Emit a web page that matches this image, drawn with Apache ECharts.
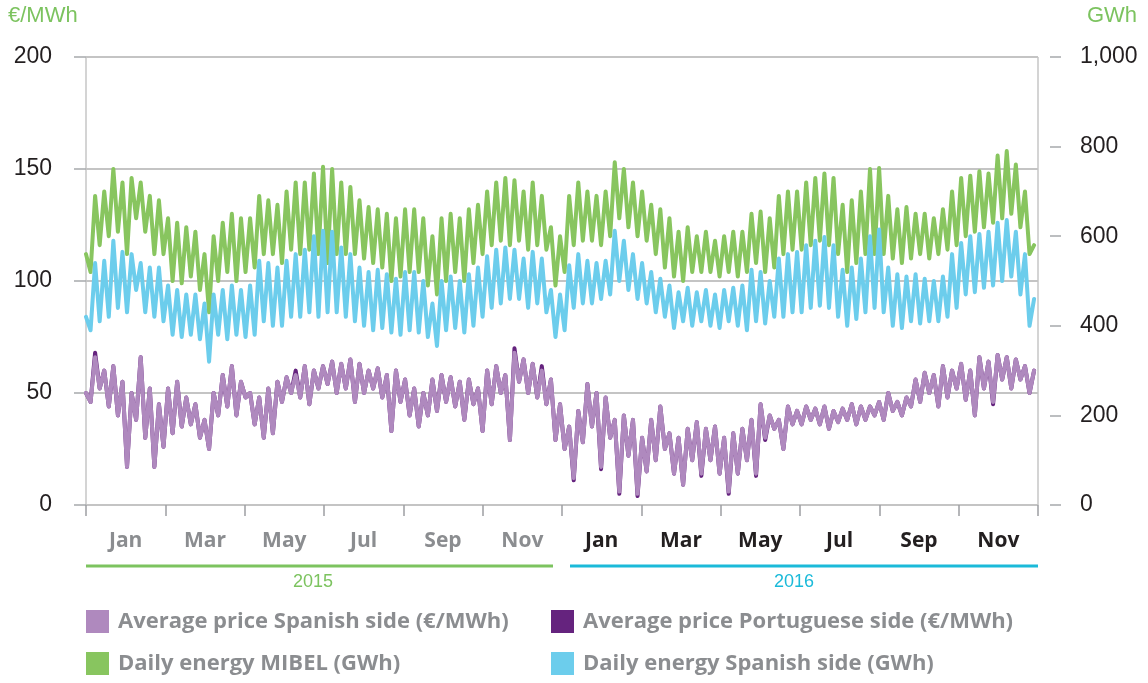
<!DOCTYPE html>
<html>
<head>
<meta charset="utf-8">
<script src="https://cdn.jsdelivr.net/npm/echarts@6/dist/echarts.min.js"></script>
<style>
  html, body { margin: 0; padding: 0; background: #fff; }
  #main { width: 1148px; height: 683px; }
</style>
</head>
<body>
<div id="main"></div>
<script>
// two readings a week (working-day level, then weekend level), 1 Jan 2015 onwards
const STEP_DAYS = 3.5;
const TOTAL_DAYS = 731;

const monthLabels = ['Jan', 'Mar', 'May', 'Jul', 'Sep', 'Nov', 'Jan', 'Mar', 'May', 'Jul', 'Sep', 'Nov'];
const years = ['2015', '2016'];
const priceTicks = [0, 50, 100, 150, 200];
const energyTicks = [0, 200, 400, 600, 800, 1000];

const names = {
  priceSpain: 'Average price Spanish side (€/MWh)',
  pricePortugal: 'Average price Portuguese side (€/MWh)',
  energyMibel: 'Daily energy MIBEL (GWh)',
  energySpain: 'Daily energy Spanish side (GWh)'
};

// €/MWh
const priceSpain = [
  50,46, 66,52, 60,44, 62,40, 55,17,
  50,38, 66,30, 52,17, 45,26, 52,32,
  55,35, 48,36, 45,30, 38,25, 50,40,
  58,44, 62,40, 55,48, 50,36, 48,30,
  52,32, 55,46, 57,50, 58,48, 62,45,
  60,52, 62,54, 64,50, 63,52, 65,46,
  63,50, 60,52, 61,48, 58,33, 60,46,
  56,40, 52,35, 50,40, 56,42, 58,46,
  57,44, 55,38, 56,45, 52,33, 60,45,
  62,50, 58,29, 68,55, 65,50, 63,48,
  60,45, 56,29, 45,25, 35,12, 42,28,
  54,35, 50,17, 48,30, 38,6, 40,22,
  38,5, 30,15, 38,20, 44,25, 32,14,
  30,9, 34,20, 37,14, 34,20, 35,14,
  30,6, 32,14, 34,20, 38,14, 45,30,
  40,34, 38,25, 44,36, 42,36, 44,38,
  43,36, 44,34, 42,37, 43,38, 45,36,
  44,38, 44,40, 46,38, 50,42, 46,40,
  48,44, 56,46, 59,50, 58,44, 62,48,
  60,52, 63,47, 60,40, 66,52, 64,46,
  67,56, 66,52, 65,56, 62,50, 60
];

const pricePortugal = [
  50,46, 68,52, 60,44, 62,40, 55,17,
  50,38, 66,30, 52,17, 45,26, 52,32,
  55,35, 48,36, 45,30, 38,25, 50,40,
  58,44, 62,40, 55,48, 50,36, 48,30,
  52,32, 55,46, 57,50, 60,48, 62,45,
  60,52, 62,54, 64,50, 63,52, 65,46,
  63,50, 60,52, 61,48, 58,33, 60,46,
  56,40, 52,35, 50,40, 56,42, 58,46,
  57,44, 55,38, 56,45, 52,33, 60,45,
  62,50, 58,29, 70,55, 65,50, 63,48,
  62,45, 56,29, 45,25, 35,11, 42,28,
  54,35, 50,16, 48,30, 38,5, 40,22,
  38,4, 30,15, 38,20, 44,25, 32,14,
  30,9, 34,20, 37,13, 34,20, 35,14,
  30,5, 32,14, 34,20, 38,13, 45,29,
  40,34, 38,25, 44,36, 42,36, 44,38,
  43,36, 44,34, 42,37, 43,38, 45,36,
  44,38, 44,40, 46,38, 50,42, 46,40,
  48,44, 56,46, 59,50, 58,44, 62,48,
  60,52, 63,47, 60,40, 66,52, 64,45,
  67,56, 66,52, 65,56, 62,50, 60
];

// GWh
const energyMibel = [
  560,520, 690,580, 700,600, 750,610, 720,560,
  730,640, 720,610, 690,560, 680,560, 640,500,
  630,495, 620,510, 610,480, 560,430, 600,500,
  630,520, 650,500, 640,520, 640,530, 690,560,
  680,560, 670,540, 700,570, 720,560, 720,570,
  740,560, 755,540, 750,560, 720,560, 710,560,
  680,550, 665,540, 660,530, 650,500, 640,510,
  660,520, 660,520, 640,490, 600,470, 640,500,
  650,520, 640,500, 660,540, 670,560, 700,580,
  720,590, 730,580, 725,590, 700,570, 720,580,
  690,570, 620,490, 600,520, 690,580, 720,590,
  700,590, 690,580, 700,600, 765,640, 750,620,
  720,600, 700,590, 670,560, 660,530, 640,510,
  610,500, 620,520, 600,520, 610,520, 590,510,
  600,520, 610,510, 610,520, 650,540, 655,520,
  640,530, 690,560, 700,570, 700,570, 720,580,
  730,590, 740,580, 730,560, 670,520, 680,540,
  700,560, 750,560, 752,560, 690,550, 660,540,
  665,550, 650,560, 650,550, 640,560, 660,570,
  700,580, 730,600, 735,610, 745,620, 740,630,
  780,640, 790,650, 760,620, 700,560, 580
];

const energySpain = [
  420,390, 540,410, 545,420, 590,440, 565,430,
  560,480, 540,430, 530,420, 530,410, 490,380,
  480,375, 470,380, 470,370, 450,320, 470,380,
  480,370, 490,380, 480,375, 490,380, 545,410,
  540,400, 530,400, 545,420, 560,420, 570,430,
  600,420, 612,430, 610,430, 575,420, 560,410,
  530,400, 520,390, 525,395, 515,385, 505,380,
  520,390, 520,385, 500,375, 450,355, 500,390,
  510,395, 500,385, 515,400, 530,420, 555,440,
  570,450, 575,460, 570,460, 550,440, 565,450,
  550,430, 480,375, 470,390, 535,440, 560,450,
  545,450, 540,460, 545,470, 612,500, 590,480,
  560,460, 540,450, 520,430, 505,420, 490,395,
  475,410, 485,400, 475,410, 480,400, 470,395,
  480,410, 485,400, 490,390, 525,410, 520,405,
  500,420, 550,420, 560,430, 565,430, 580,440,
  590,445, 598,440, 580,420, 525,400, 530,415,
  550,430, 600,440, 615,430, 530,400, 515,395,
  510,410, 515,405, 505,410, 500,410, 510,420,
  560,440, 585,470, 600,475, 605,485, 610,490,
  630,500, 636,510, 610,470, 560,400, 460
];

const colors = {
  priceSpain: '#af89be',
  pricePortugal: '#65237e',
  energyMibel: '#88c55f',
  energySpain: '#6ccdec'
};

function toDays(values) {
  return values.map((v, i) => [i * STEP_DAYS, v]);
}

function line(key, values, yAxisIndex) {
  return {
    name: names[key],
    type: 'line',
    xAxisIndex: 0,
    yAxisIndex: yAxisIndex,
    data: toDays(values),
    symbol: 'none',
    color: colors[key],
    itemStyle: { color: colors[key] },
    lineStyle: { color: colors[key], width: 4, cap: 'round', join: 'round' }
  };
}

const legendText = {
  fontFamily: 'Open Sans', fontWeight: 'bold', fontSize: 22, color: '#8b8d90', padding: [0, 0, 0, 4]
};
const numText = { fontFamily: 'Liberation Sans', fontSize: 23, color: '#231f20' };

const chart = echarts.init(document.getElementById('main'));
chart.setOption({
  animation: false,
  backgroundColor: '#fff',
  grid: {
    left: 86, right: 110, top: 57, bottom: 178,
    show: true, borderColor: '#a9a9a9', borderWidth: 1
  },
  legend: [
    {
      data: [names.priceSpain, names.energyMibel],
      left: 86, top: 610, orient: 'vertical', padding: 0,
      itemWidth: 23, itemHeight: 23, itemGap: 19, icon: 'rect',
      textStyle: legendText
    },
    {
      data: [names.pricePortugal, names.energySpain],
      left: 551, top: 610, orient: 'vertical', padding: 0,
      itemWidth: 23, itemHeight: 23, itemGap: 19, icon: 'rect',
      textStyle: legendText
    }
  ],
  xAxis: [
    { type: 'value', min: 0, max: TOTAL_DAYS, show: false },
    {
      type: 'category', data: monthLabels, position: 'bottom', offset: 12,
      boundaryGap: true,
      axisLine: { show: false },
      axisTick: { show: true, length: 11, lineStyle: { color: '#9d9fa2', width: 1.5 } },
      splitLine: { show: false },
      axisLabel: {
        margin: 14,
        interval: 0,
        formatter: (v, i) => (i < 6 ? '{a|' + v + '}' : '{b|' + v + '}'),
        rich: {
          a: { fontFamily: 'Open Sans', fontWeight: 'bold', fontSize: 21, color: '#8b8d90' },
          b: { fontFamily: 'Open Sans', fontWeight: 'bold', fontSize: 21, color: '#231f20' }
        }
      }
    }
  ],
  yAxis: [
    {
      type: 'value', position: 'left', offset: 12,
      min: priceTicks[0], max: priceTicks[priceTicks.length - 1], interval: 50,
      axisLine: { show: false },
      axisTick: { show: true, length: 12, lineStyle: { color: '#a7a9ac', width: 1.5 } },
      axisLabel: Object.assign({ margin: 22 }, numText),
      splitLine: { show: true, lineStyle: { color: '#c4c4c4', width: 2 } }
    },
    {
      type: 'value', position: 'right', offset: 12,
      min: energyTicks[0], max: energyTicks[energyTicks.length - 1], interval: 200,
      axisLine: { show: false },
      axisTick: { show: true, length: 11, lineStyle: { color: '#a7a9ac', width: 1.5 } },
      axisLabel: Object.assign({
        margin: 30,
        formatter: (v) => v.toLocaleString('en-US')
      }, numText),
      splitLine: { show: false }
    }
  ],
  graphic: [
    { type: 'text', left: 8, top: 5, style: { text: '€/MWh', fill: '#7cc35f', font: '22px "Liberation Sans"' } },
    { type: 'text', right: 11, top: 5, style: { text: 'GWh', fill: '#7cc35f', font: '22px "Liberation Sans"' } },
    { type: 'line', shape: { x1: 86, y1: 566, x2: 553, y2: 566 }, style: { stroke: '#7cc35f', lineWidth: 3 } },
    { type: 'line', shape: { x1: 570, y1: 566, x2: 1038, y2: 566 }, style: { stroke: '#1bbad9', lineWidth: 3 } },
    { type: 'text', x: 313, y: 582, style: { text: years[0], fill: '#7cc35f', font: '18px "Liberation Sans"', align: 'center', verticalAlign: 'middle' } },
    { type: 'text', x: 794, y: 582, style: { text: years[1], fill: '#1bbad9', font: '18px "Liberation Sans"', align: 'center', verticalAlign: 'middle' } }
  ],
  series: [
    line('energyMibel', energyMibel, 1),
    line('energySpain', energySpain, 1),
    line('pricePortugal', pricePortugal, 0),
    line('priceSpain', priceSpain, 0)
  ]
});
</script>
</body>
</html>
